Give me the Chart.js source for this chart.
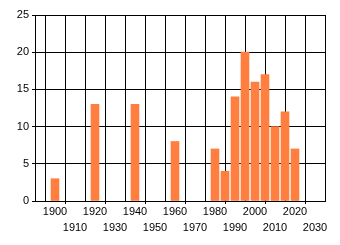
<!DOCTYPE html>
<html><head><meta charset="utf-8">
<script src="https://cdn.jsdelivr.net/npm/chart.js@4/dist/chart.umd.min.js"></script>
<style>html,body{margin:0;padding:0;background:#fff;}#wrap{width:340px;height:245px;}</style>
</head><body><div id="wrap"><canvas id="c" width="340" height="245"></canvas></div>
<script>
const years = [1900, 1920, 1940, 1960, 1980, 1985, 1990, 1995, 2000, 2005, 2010, 2015, 2020];
const values = [3, 13, 13, 8, 7, 4, 14, 20, 16, 17, 10, 12, 7];
const xMin = 1890, xMax = 2035, xStep = 10, xLastTick = 2030;
const yMin = 0, yMax = 25, yStep = 5;

const font = {family: "'Liberation Sans', Arial, sans-serif", size: 11, lineHeight: 1.45};
new Chart(document.getElementById('c'), {
  type: 'bar',
  data: {datasets: [{data: years.map((y, i) => ({x: y, y: values[i]})), backgroundColor: '#ff7f40', barThickness: 8}]},
  options: {
    responsive: false, animation: false,
    layout: {padding: {top: 15, right: 15, left: 0, bottom: 0}},
    plugins: {legend: {display: false}, tooltip: {enabled: false}},
    scales: {
      x: {
        type: 'linear', min: xMin, max: xMax, offset: false,
        afterBuildTicks: s => {
          const t = [];
          for (let v = xMin; v <= xLastTick; v += xStep) t.push({value: v});
          s.ticks = t;
        },
        afterFit: s => { s.height = 44; },
        border: {color: '#000', width: 1},
        grid: {color: '#000', lineWidth: 1, tickLength: 3,
               tickColor: ctx => (ctx.tick && ctx.tick.value % 20 === 10) ? '#000' : 'rgba(0,0,0,0)'},
        ticks: {autoSkip: false, maxRotation: 0, color: '#000', font: font, padding: 0,
          callback: v => v === xMin ? '' : (v % 20 === 0 ? [String(v), ''] : ['', String(v)])}
      },
      y: {
        min: yMin, max: yMax,
        afterFit: s => { s.width = 35; },
        border: {color: '#000', width: 1},
        grid: {color: '#000', lineWidth: 1, tickLength: 3},
        ticks: {stepSize: yStep, color: '#000', font: {family: font.family, size: 11}, padding: 3}
      }
    }
  }
});
</script></body></html>
